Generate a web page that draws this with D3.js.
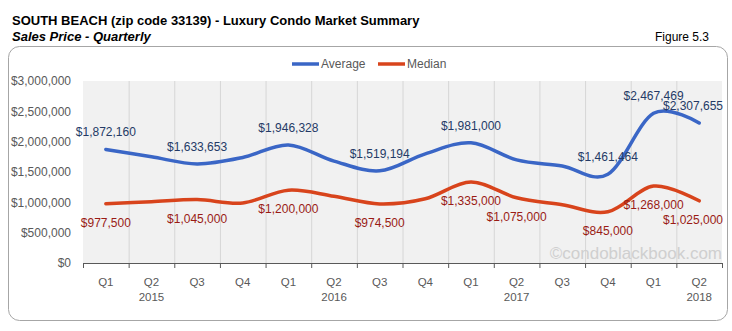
<!DOCTYPE html>
<html>
<head>
<meta charset="utf-8">
<script src="https://cdn.jsdelivr.net/npm/d3@7"></script>
<style>
  html, body { margin: 0; padding: 0; background: #ffffff; }
  svg { display: block; font-family: "Liberation Sans", Arial, sans-serif; }
</style>
</head>
<body>
<svg id="chart" width="732" height="331"></svg>
<script>
// Quarterly luxury condo sales prices, South Beach (zip 33139)
const quarters = ["Q1","Q2","Q3","Q4","Q1","Q2","Q3","Q4","Q1","Q2","Q3","Q4","Q1","Q2"];
const years    = ["",  "2015","","", "",  "2016","","", "",  "2017","","", "",  "2018"];
const averagePrice = [1872160, 1750000, 1633653, 1740000, 1946328, 1680000, 1519194,
                      1800000, 1981000, 1700000, 1600000, 1461464, 2467469, 2307655];
const medianPrice  = [977500, 1010000, 1045000, 990000, 1200000, 1100000, 974500,
                      1060000, 1335000, 1075000, 960000, 845000, 1268000, 1025000];
// Which points carry a value label
const averageLabeled = [true,false,true,false,true,false,true,false,true,false,false,true,true,true];
const medianLabeled  = [true,false,true,false,true,false,true,false,true,true,false,true,true,true];
const yTicks = [0, 500000, 1000000, 1500000, 2000000, 2500000, 3000000];

const svg = d3.select("#chart");
const plot = { left: 83, right: 722, top: 81, bottom: 263 };

const blue = "#3A66C6", red = "#D8441C";
const blueText = "#243A66", redText = "#9A1B15", axisText = "#595959";

// Titles
svg.append("text").attr("x", 12).attr("y", 25)
  .attr("font-size", 13).attr("font-weight", "bold").attr("fill", "#000")
  .text("SOUTH BEACH (zip code 33139) - Luxury Condo Market Summary");
svg.append("text").attr("x", 12).attr("y", 41)
  .attr("font-size", 13).attr("font-weight", "bold").attr("font-style", "italic").attr("fill", "#000")
  .text("Sales Price - Quarterly");
svg.append("text").attr("x", 709).attr("y", 41).attr("text-anchor", "end")
  .attr("font-size", 12).attr("fill", "#000")
  .text("Figure 5.3");

// Chart frame
svg.append("rect").attr("x", 8.5).attr("y", 46.5).attr("width", 719).attr("height", 274)
  .attr("rx", 11).attr("ry", 11)
  .attr("fill", "#fff").attr("stroke", "#A6A6A6").attr("stroke-width", 1);

// Scales
const idx = d3.range(quarters.length);
const x = d3.scaleBand().domain(idx).range([plot.left, plot.right]).padding(0);
const y = d3.scaleLinear().domain([0, 3000000]).range([plot.bottom, plot.top]);
const cx = i => x(i) + x.bandwidth() / 2;

// Plot background and vertical gridlines
svg.append("rect").attr("x", plot.left).attr("y", plot.top)
  .attr("width", plot.right - plot.left).attr("height", plot.bottom - plot.top)
  .attr("fill", "#F1F1F1");
const bounds = idx.map(i => x(i)).concat([x(idx[idx.length - 1]) + x.bandwidth()]);
svg.append("g").selectAll("line").data(bounds.slice(1, -1)).join("line")
  .attr("x1", d => d + 0.5).attr("x2", d => d + 0.5)
  .attr("y1", plot.top).attr("y2", plot.bottom)
  .attr("stroke", "#D6D6D6").attr("stroke-width", 1);

// Y axis labels
const fmt = d3.format("$,.0f");
const yAxis = d3.axisLeft(y).tickValues(yTicks).tickFormat(fmt).tickSize(0).tickPadding(12);
const yg = svg.append("g").attr("transform", `translate(${plot.left},0)`).call(yAxis);
yg.select(".domain").remove();
yg.selectAll("text").attr("font-size", 12).attr("fill", axisText)
  .attr("font-family", "Liberation Sans, Arial, sans-serif");

// X axis line and tick marks at band boundaries
svg.append("line").attr("x1", plot.left).attr("x2", plot.right)
  .attr("y1", plot.bottom + 0.5).attr("y2", plot.bottom + 0.5)
  .attr("stroke", "#595959").attr("stroke-width", 1);
svg.append("g").selectAll("line").data(bounds).join("line")
  .attr("x1", d => d + 0.5).attr("x2", d => d + 0.5)
  .attr("y1", plot.bottom).attr("y2", plot.bottom + 5)
  .attr("stroke", "#595959").attr("stroke-width", 1);

// X category labels (quarter + year)
const xl = svg.append("g").attr("font-size", 11.5).attr("fill", axisText).attr("text-anchor", "middle");
xl.selectAll("text.q").data(idx).join("text").attr("class", "q")
  .attr("x", d => cx(d)).attr("y", 286).text(d => quarters[d]);
xl.selectAll("text.yr").data(idx.filter(i => years[i])).join("text").attr("class", "yr")
  .attr("x", d => cx(d)).attr("y", 301).text(d => years[d]);

// Watermark
svg.append("text").attr("x", 722).attr("y", 259).attr("text-anchor", "end")
  .attr("font-size", 17).attr("fill", "#CFCFCF")
  .text("\u00A9condoblackbook.com");

// Smoothed lines
const line = d3.line().x((d, i) => cx(i)).y(d => y(d)).curve(d3.curveCardinal.tension(0));
svg.append("path").datum(averagePrice).attr("d", line)
  .attr("fill", "none").attr("stroke", blue).attr("stroke-width", 3.5).attr("stroke-linecap", "round");
svg.append("path").datum(medianPrice).attr("d", line)
  .attr("fill", "none").attr("stroke", red).attr("stroke-width", 3.5).attr("stroke-linecap", "round");

// Value labels, kept inside the frame
const labelX = i => Math.min(cx(i), 725 - 32);
svg.append("g").attr("font-size", 12).attr("fill", blueText).attr("text-anchor", "middle")
  .selectAll("text").data(idx.filter(i => averageLabeled[i])).join("text")
  .attr("x", labelX).attr("y", i => y(averagePrice[i]) - 13)
  .text(i => fmt(averagePrice[i]));
svg.append("g").attr("font-size", 12).attr("fill", redText).attr("text-anchor", "middle")
  .selectAll("text").data(idx.filter(i => medianLabeled[i])).join("text")
  .attr("x", labelX).attr("y", i => y(medianPrice[i]) + 23)
  .text(i => fmt(medianPrice[i]));

// Legend
const legend = [{ name: "Average", color: blue, x: 292 }, { name: "Median", color: red, x: 378 }];
const lg = svg.append("g").selectAll("g").data(legend).join("g")
  .attr("transform", d => `translate(${d.x},64)`);
lg.append("line").attr("x1", 0).attr("x2", 27).attr("y1", 0).attr("y2", 0)
  .attr("stroke", d => d.color).attr("stroke-width", 3.5);
lg.append("text").attr("x", 29).attr("y", 4).attr("font-size", 12).attr("fill", axisText)
  .text(d => d.name);
</script>
</body>
</html>
